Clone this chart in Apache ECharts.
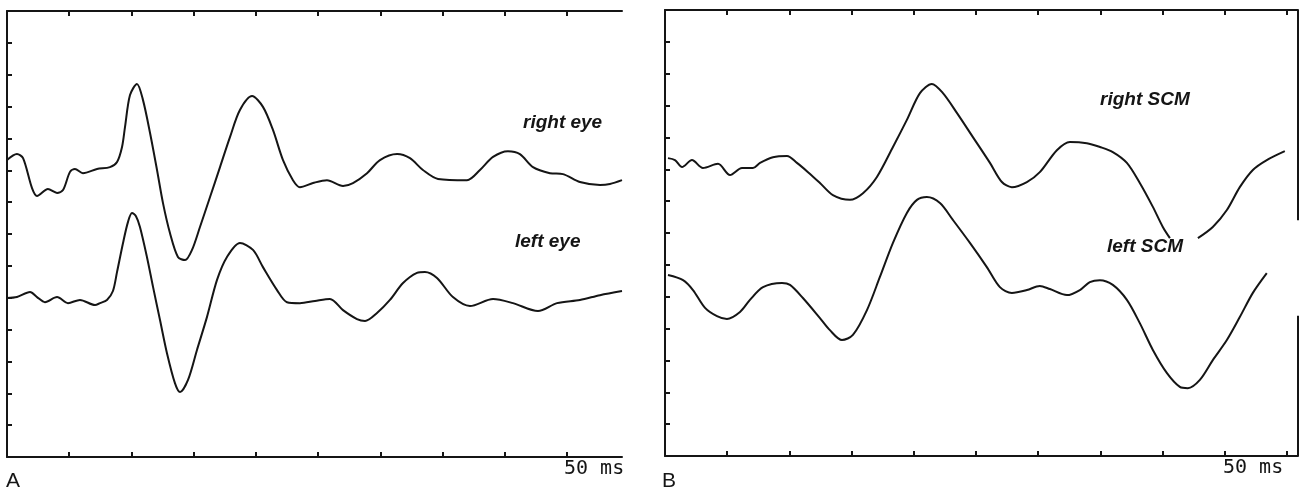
<!DOCTYPE html>
<html>
<head>
<meta charset="utf-8">
<script src="https://cdn.jsdelivr.net/npm/echarts@6/dist/echarts.min.js"></script>
<style>
  html, body { margin: 0; padding: 0; background: #fff; }
  #chart { width: 1301px; height: 490px; }
</style>
</head>
<body>
<div id="chart"></div>
<script>
// ---- Data (time in ms, amplitude in grid divisions) ----
const rightEyeT = [0.00,0.80,1.29,2.01,2.41,3.29,4.02,4.50,5.06,5.46,6.10,7.23,8.27,8.84,9.24,9.48,9.88,10.44,10.92,11.49,12.05,12.53,13.09,13.73,14.30,14.86,15.50,16.31,17.11,17.91,18.71,19.68,20.56,21.37,22.17,22.97,23.53,24.58,25.70,26.99,27.79,28.92,29.96,31.33,32.37,33.41,34.62,36.95,37.99,39.04,40.24,41.20,42.25,43.61,44.66,46.02,47.63,48.43,49.40];
const rightEyeV = [9.32,9.51,9.38,8.44,8.19,8.41,8.29,8.38,8.95,9.04,8.91,9.04,9.10,9.26,9.73,10.36,11.36,11.71,11.21,10.17,9.01,7.97,7.03,6.28,6.18,6.50,7.22,8.16,9.10,10.04,10.89,11.33,10.99,10.26,9.32,8.69,8.47,8.60,8.69,8.51,8.60,8.91,9.32,9.51,9.38,9.01,8.73,8.69,9.01,9.42,9.60,9.51,9.10,8.91,8.88,8.63,8.54,8.57,8.69];

const leftEyeT = [0.00,0.80,1.85,2.41,3.05,4.02,4.90,5.86,7.07,7.47,8.03,8.51,8.84,9.32,9.72,10.04,10.36,10.68,11.24,11.73,12.29,12.85,13.49,13.90,14.54,15.26,16.06,16.87,17.67,18.71,19.76,20.56,21.69,22.49,23.53,24.74,25.94,26.99,28.11,28.76,29.72,30.76,31.81,32.93,33.57,34.54,35.82,37.19,39.04,40.64,42.65,44.18,46.02,47.63,49.40];
const leftEyeV = [4.99,5.02,5.18,5.02,4.86,5.02,4.83,4.93,4.77,4.83,4.93,5.21,5.81,6.72,7.38,7.66,7.56,7.22,6.28,5.34,4.30,3.26,2.32,2.04,2.42,3.36,4.39,5.56,6.28,6.72,6.50,5.96,5.24,4.86,4.83,4.90,4.96,4.61,4.33,4.27,4.52,4.93,5.46,5.78,5.81,5.62,5.02,4.74,4.96,4.83,4.58,4.83,4.93,5.08,5.21];

const rightScmT = [0.24,0.80,1.37,2.17,3.05,4.26,5.23,6.19,7.07,7.64,8.68,9.81,10.61,11.50,12.46,13.50,14.87,15.92,17.04,18.33,19.45,20.50,21.46,22.35,23.47,24.76,26.13,27.09,27.89,29.10,30.14,31.51,32.56,33.92,34.97,36.01,37.14,38.18,39.23,40.03,40.60,41.70,42.85,44.05,45.18,46.22,47.27,48.39,49.84];
const rightScmV = [9.35,9.29,9.07,9.29,9.04,9.17,8.82,9.04,9.04,9.20,9.38,9.42,9.20,8.91,8.57,8.19,8.04,8.25,8.76,9.70,10.55,11.39,11.68,11.39,10.77,10.01,9.20,8.60,8.44,8.60,8.91,9.60,9.86,9.82,9.70,9.54,9.20,8.57,7.82,7.19,6.84,null,6.84,7.19,7.72,8.44,8.98,9.29,9.57];

const leftScmT = [0.24,1.45,2.25,3.22,4.18,4.98,6.03,6.83,7.88,9.41,10.05,11.09,12.46,13.26,14.23,15.11,16.24,17.28,18.33,19.45,20.26,21.06,22.11,23.15,24.52,25.88,26.93,27.89,29.10,30.14,30.95,32.32,33.36,34.16,34.97,36.01,37.14,38.18,39.23,40.35,41.40,42.04,43.01,44.05,45.18,46.22,47.27,48.39];
const leftScmV = [5.68,5.52,5.21,4.65,4.39,4.30,4.52,4.90,5.30,5.43,5.37,4.96,4.33,3.95,3.64,3.80,4.58,5.62,6.69,7.63,8.04,8.13,7.94,7.41,6.69,5.93,5.30,5.12,5.21,5.34,5.24,5.05,5.21,5.46,5.52,5.37,4.90,4.17,3.33,2.61,2.17,2.13,2.39,3.01,3.64,4.36,5.12,5.74];

const xTicksA = [5,10,15,20,25,30,35,40,45];
const xTicksB = [5,10,15,20,25,30,35,40,45,50];
const yTicks = [1,2,3,4,5,6,7,8,9,10,11,12,13];
const xMaxA = 49.4, xMaxB = 50.9, yMax = 14;

const labelsA = ['right eye', 'left eye'];
const labelsB = ['right SCM', 'left SCM'];
const scaleText = '50 ms';
const panelNames = ['A', 'B'];

// ---- Build ----
const INK = '#151515';
function pairs(t, v) { return t.map((x, i) => [x, v[i]]); }

function xAxis(grid, pos, max, ticks) {
  return {
    type: 'value', gridIndex: grid, position: pos, min: 0, max: max,
    axisLine: { show: true, onZero: false, lineStyle: { color: INK, width: 2 } },
    axisTick: { show: true, inside: true, length: 5, customValues: ticks, lineStyle: { color: INK, width: 2 } },
    axisLabel: { show: false }, splitLine: { show: false }
  };
}
function yAxis(grid) {
  return {
    type: 'value', gridIndex: grid, position: 'left', min: 0, max: yMax,
    axisLine: { show: true, onZero: false, lineStyle: { color: INK, width: 2 } },
    axisTick: { show: true, inside: true, length: 5, customValues: yTicks, lineStyle: { color: INK, width: 2 } },
    axisLabel: { show: false }, splitLine: { show: false }
  };
}
function trace(name, xi, yi, t, v) {
  return {
    name: name, type: 'line', xAxisIndex: xi, yAxisIndex: yi,
    data: pairs(t, v), showSymbol: false, smooth: 0.3, connectNulls: false,
    lineStyle: { color: INK, width: 2 }, silent: true
  };
}

const labelFont = 'italic bold 19px "Liberation Sans", Arial, sans-serif';
const scaleFont = '20px "DejaVu Sans Mono", monospace';
const panelFont = '21px "Liberation Sans", Arial, sans-serif';

const chart = echarts.init(document.getElementById('chart'), null, { renderer: 'canvas' });
chart.setOption({
  animation: false,
  backgroundColor: '#fff',
  grid: [
    { left: 7, top: 11, width: 615, height: 446 },
    { left: 665, top: 10, width: 633, height: 446 }
  ],
  xAxis: [
    xAxis(0, 'bottom', xMaxA, xTicksA),
    xAxis(0, 'top', xMaxA, xTicksA),
    xAxis(1, 'bottom', xMaxB, xTicksB),
    xAxis(1, 'top', xMaxB, xTicksB)
  ],
  yAxis: [yAxis(0), yAxis(1)],
  series: [
    trace('right eye', 0, 0, rightEyeT, rightEyeV),
    trace('left eye', 0, 0, leftEyeT, leftEyeV),
    trace('right SCM', 2, 1, rightScmT, rightScmV),
    trace('left SCM', 2, 1, leftScmT, leftScmV)
  ]
});

// Right frame edge of panel B (with the gap seen in the original) and text
const p = (xi, yi, x, y) => chart.convertToPixel({ xAxisIndex: xi, yAxisIndex: yi }, [x, y]);
const rTop = p(2, 1, xMaxB, yMax), rGap1 = p(2, 1, xMaxB, 7.4), rGap2 = p(2, 1, xMaxB, 4.4), rBot = p(2, 1, xMaxB, 0);
const ink = { stroke: INK, lineWidth: 2 };
function txt(x, y, s, font) {
  return { type: 'text', x: x, y: y, silent: true, style: { text: s, font: font, fill: INK, textAlign: 'left', textVerticalAlign: 'bottom' } };
}
chart.setOption({
  graphic: [
    { type: 'line', shape: { x1: rTop[0], y1: rTop[1], x2: rGap1[0], y2: rGap1[1] }, style: ink, silent: true },
    { type: 'line', shape: { x1: rGap2[0], y1: rGap2[1], x2: rBot[0], y2: rBot[1] }, style: ink, silent: true },
    txt(523, 132, labelsA[0], labelFont),
    txt(515, 251, labelsA[1], labelFont),
    txt(1100, 109, labelsB[0], labelFont),
    txt(1107, 256, labelsB[1], labelFont),
    txt(564, 479, scaleText, scaleFont),
    txt(1223, 478, scaleText, scaleFont),
    txt(6, 492, panelNames[0], panelFont),
    txt(662, 492, panelNames[1], panelFont)
  ]
});
</script>
</body>
</html>
